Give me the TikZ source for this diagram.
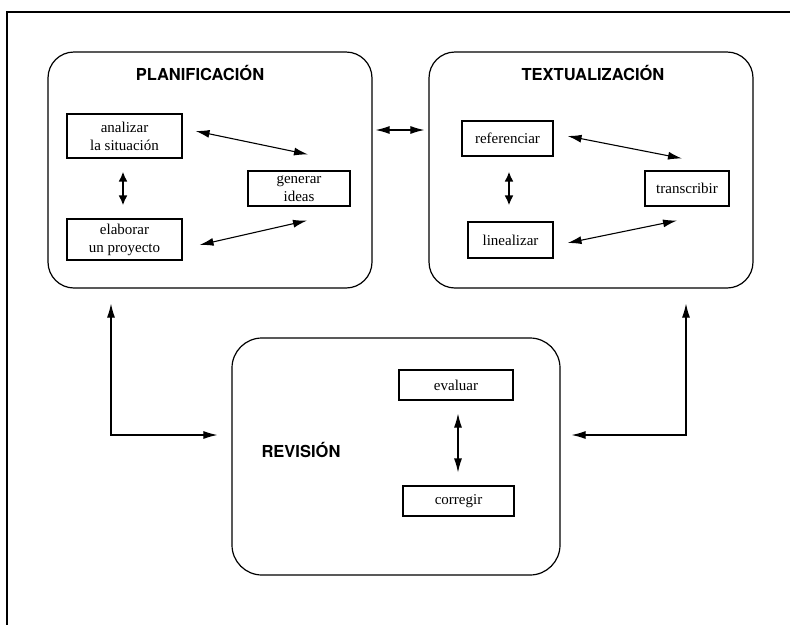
\documentclass[tikz,border=0pt]{standalone}
\usepackage{fontspec}
\setmainfont{Liberation Serif}
\newfontfamily\headfont{TeX Gyre Heros}
\usetikzlibrary{arrows.meta}
\newcommand{\tasksize}{\fontsize{15}{18}\selectfont}
\newcommand{\headsize}{\fontsize{16.5}{19}\selectfont\headfont\bfseries}
\tikzset{
  stage/.style={draw,line width=1.2pt,rounded corners=26pt},
  task/.style={draw,line width=1.1pt,align=center,inner sep=0pt,font=\tasksize},
  head/.style={font=\headsize},
  link/.style={<->,line width=1.1pt},
  swap/.style={<->,line width=2.4pt,>={Latex[length=10pt,width=9pt]}}
}
\begin{document}
\begin{tikzpicture}[x=1pt,y=-1pt,>={Latex[length=14pt,width=8pt]}]
\useasboundingbox (0,0) rectangle (790,625);
\draw[line width=1.1pt] (790,12) -- (7,12) -- (7,625);
% the three stages
\node[stage,minimum width=324pt,minimum height=236pt] (plan) at (210,170) {};
\node[stage,minimum width=324pt,minimum height=236pt] (text) at (591,170) {};
\node[stage,minimum width=328pt,minimum height=237pt,rounded corners=30pt] (rev) at (396,456.5) {};
\node[head] (plant) at (200,73) {PLANIFICACIÓN};
\node[head] (textt) at (593,73) {TEXTUALIZACIÓN};
\node[head] (revt) at (301,450) {REVISIÓN};
% tasks
\node[task,minimum width=115pt,minimum height=44pt] (ana) at (124.5,136) {analizar\\la situación};
\node[task,minimum width=115pt,minimum height=41pt] (ela) at (124.5,239.5) {elaborar\\un proyecto};
\node[task,minimum width=102pt,minimum height=35pt] (gen) at (299,188.5) {generar\\ideas};
\node[task,minimum width=91pt,minimum height=35pt] (ref) at (507.5,138.5) {referenciar};
\node[task,minimum width=85pt,minimum height=36pt] (lin) at (510.5,240) {linealizar};
\node[task,minimum width=84pt,minimum height=35pt] (tra) at (687,188.5) {transcribir};
\node[task,minimum width=114pt,minimum height=30pt] (eva) at (456,385) {evaluar};
\node[task,minimum width=111pt,minimum height=30pt] (cor) at (458.5,501) {corregir};
% links inside the stages
\draw[link] ([xshift=13pt,yshift=5pt]ana.east) -- ([xshift=9pt,yshift=16pt]gen.north);
\draw[link] ([xshift=17pt,yshift=-5.5pt]ela.east) -- ([xshift=8pt,yshift=-14pt]gen.south);
\draw[swap] ([xshift=-1.5pt,yshift=-13pt]ana.south) -- ([xshift=-1.5pt,yshift=13pt]ela.north);
\draw[link] ([xshift=14pt,yshift=2.5pt]ref.east) -- ([xshift=-5pt,yshift=12pt]tra.north);
\draw[link] ([xshift=14pt,yshift=-3pt]lin.east) -- ([xshift=-10pt,yshift=-14pt]tra.south);
\draw[swap] ([xshift=1.5pt,yshift=-15pt]ref.south) -- ([xshift=-1.5pt,yshift=16pt]lin.north);
\draw[link] ([xshift=2pt,yshift=-13pt]eva.south) -- ([xshift=-0.5pt,yshift=13pt]cor.north);
% links between the stages
\draw[link] ([xshift=3pt,yshift=40pt]plan.east) -- ([xshift=-4pt,yshift=40pt]text.west);
\draw[link] ([xshift=-99pt,yshift=-15pt]plan.south) |- ([xshift=-14pt,yshift=21.5pt]rev.west);
\draw[link] ([xshift=95pt,yshift=-15pt]text.south) |- ([xshift=11pt,yshift=21.5pt]rev.east);
\end{tikzpicture}
\end{document}
